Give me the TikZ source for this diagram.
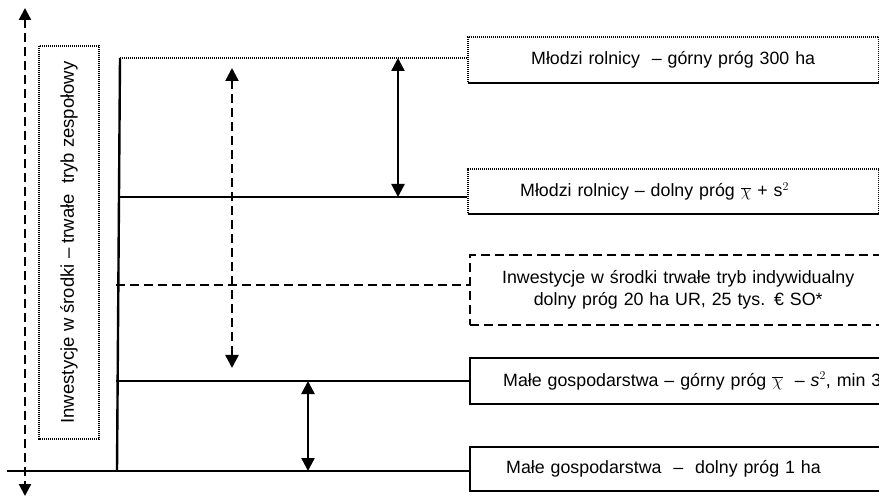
\documentclass[tikz,border=0pt]{standalone}
\usepackage{fontspec}
\setmainfont{Liberation Sans}
\usetikzlibrary{arrows.meta}

\begin{document}
\begin{tikzpicture}
        [x=1pt,y=-1pt,line width=2.4pt,
         box/.style={rectangle,draw,line width=2.4pt,inner ysep=0pt,
                     font=\fontsize{17.8}{21.5}\selectfont},
         dotline/.style={dash pattern=on 1.4pt off 0.6pt},
         dashline/.style={dash pattern=on 9pt off 5pt},
         tips/.style={{Triangle[width=13pt,length=13pt]}-{Triangle[width=13pt,length=13pt]}}]
        \useasboundingbox (0,0) rectangle (879,497);
        \clip (0,0) rectangle (879,497);

        \node[box,dotline,anchor=west,minimum height=46pt,inner xsep=63pt,
              text width=285pt,align=left] (b1) at (467,60)
              {Młodzi rolnicy\ \ – górny próg 300 ha};
        \node[box,dotline,anchor=west,minimum height=45pt,inner xsep=52pt,
              text width=307pt,align=left] (b2) at (467,191.5)
              {Młodzi rolnicy – dolny próg $\overline{\chi}$ + s$^2$};
        \node[box,dashline,anchor=west,minimum height=70pt,inner xsep=8pt,
              text width=400pt,align=center] (b3) at (469,290)
              {Inwestycje w środki trwałe tryb indywidualny\\dolny próg 20 ha UR, 25 tys. € SO*};
        \node[box,anchor=west,minimum height=46pt,inner xsep=33pt,
              text width=420pt,align=left] (b4) at (469,381)
              {Małe gospodarstwa – górny próg $\overline{\chi}$\ \ – \textit{s}$^2$, min 3};
        \node[box,anchor=west,minimum height=44pt,inner xsep=36pt,
              text width=420pt,align=left] (b5) at (469,469)
              {Małe gospodarstwa\ \ –\ \ dolny próg 1 ha};

        \node[box,dotline,rotate=90,minimum width=393pt,minimum height=60pt,
              font=\fontsize{18.5}{22}\selectfont] (zesp) at (69,242.5)
              {Inwestycje w środki – trwałe\ \ tryb zespołowy};

        % spine and levels
        \coordinate (s1) at (120,58);
        \coordinate (s2) at (119.3,197);
        \coordinate (s3) at (116,285);
        \coordinate (s4) at (116,381);
        \coordinate (s5) at (117,471);
        \coordinate (l0) at (7,471);
        \draw (s1) -- (s5);
        \draw[dotline] (s1) -- (s1 -| b1.west);
        \draw[dotline] (s2) -- (s2 -| b2.west);
        \draw[dashline] (s3) -- (s3 -| b3.west);
        \draw (s4) -- (s4 -| b4.west);
        \draw (l0) -- (l0 -| b5.west);

        % arrows
        \coordinate (up) at (25,8);
        \coordinate (down) at (25,496);
        \coordinate (d1) at (232,68);
        \coordinate (d2) at (232,368);
        \coordinate (m1) at (398,58);
        \coordinate (m2) at (398,197);
        \coordinate (p1) at (308,381);
        \coordinate (p2) at (308,471);
        \draw[dashline,{Triangle[width=12pt,length=12pt]}-{Triangle[width=12pt,length=12pt]}] (up) -- (down);
        \draw[dashline,tips] (d1) -- (d2);
        \draw[dotline,tips] (m1) -- (m2);
        \draw[tips] (p1) -- (p2);

      \end{tikzpicture}
\end{document}
